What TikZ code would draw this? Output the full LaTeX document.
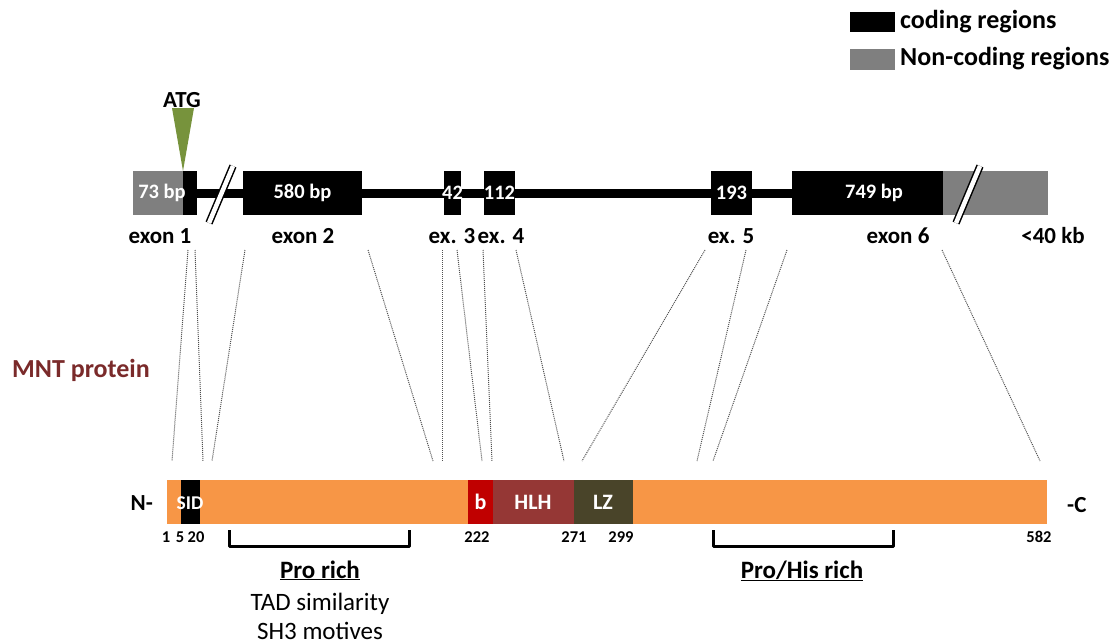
\documentclass[tikz,border=0pt]{standalone}
\usepackage{fontspec}
\setmainfont{Carlito}
\usetikzlibrary{backgrounds}
\definecolor{ncgray}{RGB}{127,127,127}
\definecolor{atggreen}{RGB}{119,147,60}
\definecolor{porange}{RGB}{247,150,70}
\definecolor{bred}{RGB}{192,0,0}
\definecolor{hlhred}{RGB}{149,55,53}
\definecolor{lzolive}{RGB}{73,68,41}
\definecolor{mntred}{RGB}{122,42,42}
\definecolor{dotgray}{RGB}{80,80,80}
\begin{document}
\begin{tikzpicture}[x=1pt,y=-1pt,
  blk/.style={fill=black,draw=none,inner sep=0pt,minimum height=44pt},
  gry/.style={fill=ncgray,draw=none,inner sep=0pt,minimum height=44pt},
  pseg/.style={draw=none,inner sep=0pt,minimum height=44pt},
  lbl/.style={inner sep=0pt,font=\bfseries\fontsize{23}{23}\selectfont},
  leglbl/.style={inner sep=0pt,anchor=west,font=\bfseries\fontsize{26}{26}\selectfont},
  inlbl/.style={inner sep=0pt,text=white,font=\bfseries\fontsize{20.5}{20.5}\selectfont},
  domlbl/.style={inner sep=0pt,text=white,font=\bfseries\fontsize{22}{22}\selectfont},
  numlbl/.style={inner sep=0pt,font=\bfseries\fontsize{16.5}{16.5}\selectfont},
  termlbl/.style={inner sep=0pt,font=\bfseries\fontsize{23}{23}\selectfont},
  txt/.style={inner sep=0pt,anchor=base,font=\fontsize{25}{25}\selectfont},
  btxt/.style={inner sep=0pt,anchor=base,font=\bfseries\fontsize{25}{25}\selectfont},
  conn/.style={draw=dotgray,line width=1pt,densely dotted},
  brk/.style={line width=3pt,line join=round},
  legbox/.style={draw=none,inner sep=0pt,minimum width=45pt,minimum height=20pt}
]
\useasboundingbox (0,0) rectangle (1115,643);

% legend
\node[legbox,fill=black] (lc) at (872.5,22) {};
\node[legbox,fill=ncgray,minimum height=21pt] (ln) at (872.5,59) {};
\node[leglbl] (lct) at (900,22) {coding regions};
\node[leglbl] (lnt) at (900,59) {Non-coding regions};

% gene exons
\node[gry,minimum width=50pt] (e1g) at (158,193) {};
\node[blk,minimum width=14pt] (e1c) at (190,193) {};
\node[blk,minimum width=119pt] (e2) at (302.5,193) {};
\node[blk,minimum width=17pt] (e3) at (452.5,193) {};
\node[blk,minimum width=31pt] (e4) at (499.5,193) {};
\node[blk,minimum width=41pt] (e5) at (731.5,193) {};
\node[blk,minimum width=151pt] (e6) at (867.5,193) {};
\node[gry,minimum width=105pt] (e6g) at (995.5,193) {};
\begin{pgfonlayer}{background}
\draw[line width=9pt] (e1g.center) -- (e6g.center);
\end{pgfonlayer}

% labels inside exons
\node[inlbl] (t1) at (162,193) {73 bp};
\node[inlbl] (t2) at (302.5,193) {580 bp};
\node[inlbl] (t3) at (452.5,193) {42};
\node[inlbl] (t4) at (499.5,193) {112};
\node[inlbl] (t5) at (731.5,193) {193};
\node[inlbl] (t6) at (874,193) {749 bp};

% break marks
\coordinate (b1a) at (209,223); \coordinate (b1b) at (233,166);
\coordinate (b2a) at (956,223); \coordinate (b2b) at (980,166);
\draw[line width=7.5pt] (b1a) -- (b1b);
\draw[line width=4.5pt,white] (b1a) -- (b1b);
\draw[line width=7.5pt] (b2a) -- (b2b);
\draw[line width=4.5pt,white] (b2a) -- (b2b);

% ATG
\coordinate (atgL) at (172,108); \coordinate (atgR) at (194,108);
\coordinate (atgT) at (183,171);
\fill[atggreen] (atgL) -- (atgR) -- (atgT) -- cycle;
\node[lbl] (atg) at (182,100) {ATG};

% exon labels
\node[lbl] (x1) at (160,236) {exon 1};
\node[lbl] (x2) at (303,236) {exon 2};
\node[lbl] (x3) at (452,236) {ex. 3};
\node[lbl] (x4) at (501,236) {ex. 4};
\node[lbl] (x5) at (731,236) {ex. 5};
\node[lbl] (x6) at (898,236) {exon 6};
\node[lbl] (x7) at (1053,236) {<40 kb};

% MNT protein title
\node[inner sep=0pt,anchor=west,text=mntred,font=\bfseries\fontsize{26}{26}\selectfont] (mnt) at (12,370) {MNT protein};

% dotted connectors
\foreach \i/\xa/\xb in {1/188/172,2/195/203,3/245/212,4/368/433,5/442/442,6/457/482,7/483/492,8/516/564,9/705/582,10/746/697,11/787/713,12/942/1040}{
  \coordinate (ct\i) at (\xa,250);
  \coordinate (cb\i) at (\xb,461);
  \draw[conn] (ct\i) -- (cb\i);
}

% protein bar
\node[pseg,fill=porange,minimum width=880pt] (prot) at (607,502) {};
\node[pseg,fill=black,minimum width=19pt] (sid) at (190.5,502) {};
\node[pseg,fill=bred,minimum width=25pt] (bdom) at (480.5,502) {};
\node[pseg,fill=hlhred,minimum width=81pt] (hlh) at (533.5,502) {};
\node[pseg,fill=lzolive,minimum width=59pt] (lz) at (603.5,502) {};
\node[domlbl,font=\bfseries\fontsize{19.5}{19.5}\selectfont] (sidt) at (190,503) {SID};
\node[domlbl] (bt) at (480.5,502) {b};
\node[domlbl] (hlht) at (533,502) {HLH};
\node[domlbl] (lzt) at (603,502) {LZ};
\node[termlbl,anchor=east] (nterm) at (153,503) {N-};
\node[termlbl,anchor=west] (cterm) at (1067,505) {-C};

% numbers
\node[numlbl] (n1) at (166,537) {1};
\node[numlbl] (n5) at (180,537) {5};
\node[numlbl] (n20) at (196,537) {20};
\node[numlbl] (n222) at (477,537) {222};
\node[numlbl] (n271) at (574,537) {271};
\node[numlbl] (n299) at (621,537) {299};
\node[numlbl] (n582) at (1039,537) {582};

% brackets
\coordinate (pr1) at (229,530); \coordinate (pr2) at (409,530);
\coordinate (ph1) at (713,530); \coordinate (ph2) at (893,530);
\draw[brk] (pr1) -- ++(0,16) -| (pr2);
\draw[brk] (ph1) -- ++(0,16) -| (ph2);

% bracket texts
\node[btxt] (prt) at (320,578) {\underline{Pro rich}};
\node[txt] (tad) at (320,610) {TAD similarity};
\node[txt] (sh3) at (320,639) {SH3 motives};
\node[btxt] (pht) at (802,578) {\underline{Pro/His rich}};
\end{tikzpicture}
\end{document}
